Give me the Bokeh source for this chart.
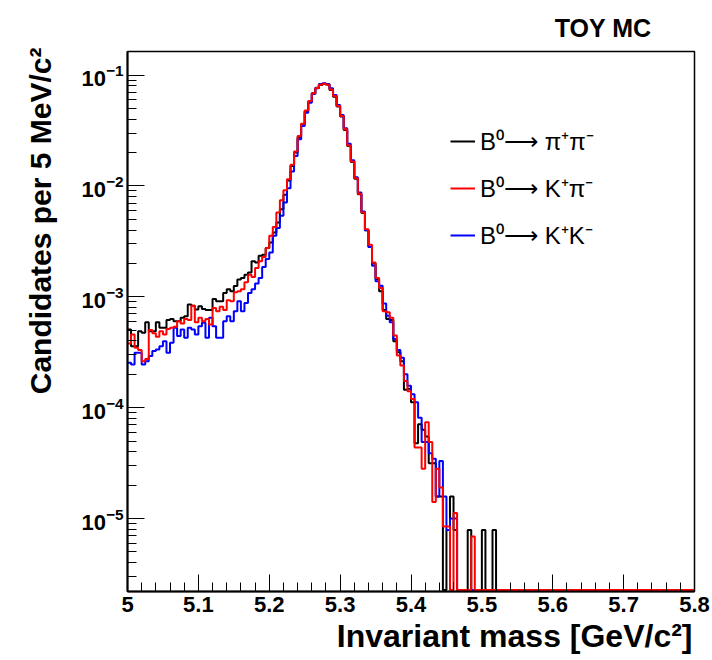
import numpy as np
from bokeh.plotting import figure
from bokeh.models import (Range1d, LogTicker, LogTickFormatter, FixedTicker,
                          CustomJSTickFormatter, Title, Legend, LegendItem, ColumnDataSource)
from bokeh.embed import file_html
from bokeh.resources import INLINE

# ---------------- data ----------------
x_lo, x_hi = 5.0, 5.8          # GeV/c^2
bin_width = 0.005              # 5 MeV bins
y_lo, y_hi = 2.2e-6, 0.163
x_major = [5.0, 5.1, 5.2, 5.3, 5.4, 5.5, 5.6, 5.7, 5.8]

# B0 -> pi+ pi-   (black)
pipi = [
    5.07e-4, 3.59e-4, 3.59e-4, 4.90e-4, 4.73e-4, 5.89e-4, 4.90e-4, 4.90e-4, 5.89e-4, 5.25e-4,
    5.25e-4, 6.17e-4, 6.31e-4, 6.03e-4, 6.03e-4, 6.46e-4, 6.68e-4, 8.51e-4, 8.32e-4, 7.67e-4,
    8.22e-4, 7.76e-4, 7.59e-4, 7.59e-4, 9.55e-4, 9.12e-4, 9.12e-4, 1.08e-3, 1.17e-3, 1.12e-3,
    1.25e-3, 1.43e-3, 1.48e-3, 1.58e-3, 1.66e-3, 2.09e-3, 2.04e-3, 2.34e-3, 2.40e-3, 2.75e-3,
    3.09e-3, 3.80e-3, 4.68e-3, 6.17e-3, 8.32e-3, 1.12e-2, 1.51e-2, 2.00e-2, 2.75e-2, 3.59e-2,
    4.73e-2, 5.75e-2, 6.84e-2, 7.59e-2, 8.13e-2, 8.32e-2, 8.22e-2, 7.33e-2, 6.38e-2, 5.19e-2,
    4.22e-2, 3.20e-2, 2.29e-2, 1.64e-2, 1.16e-2, 8.41e-3, 5.69e-3, 3.98e-3, 2.82e-3, 2.00e-3,
    1.45e-3, 1.12e-3, 7.59e-4, 6.31e-4, 6.17e-4, 3.98e-4, 3.16e-4, 2.63e-4, 1.45e-4, 1.48e-4,
    1.12e-4, 4.79e-5, 7.08e-5, 6.31e-5, 5.50e-5, 3.16e-5, 3.16e-5, 1.58e-5, 1.58e-5, 0.0,
    7.9e-6, 1.58e-5, 7.9e-6, 0.0, 0.0, 0.0, 7.9e-6, 0.0, 0.0, 0.0,
    7.9e-6, 0.0, 0.0, 7.9e-6,
] + [0.0] * 56

# B0 -> K+ pi-   (red)
kpi = [
    3.80e-4, 4.57e-4, 3.47e-4, 3.31e-4, 2.63e-4, 2.75e-4, 5.01e-4, 4.68e-4, 4.37e-4, 4.90e-4,
    4.57e-4, 5.13e-4, 5.25e-4, 5.37e-4, 6.03e-4, 5.75e-4, 6.31e-4, 6.17e-4, 8.32e-4, 5.89e-4,
    6.46e-4, 6.03e-4, 6.31e-4, 5.62e-4, 7.94e-4, 7.41e-4, 8.13e-4, 7.59e-4, 9.33e-4, 9.12e-4,
    1.10e-3, 1.12e-3, 1.17e-3, 1.35e-3, 1.58e-3, 1.51e-3, 1.82e-3, 2.09e-3, 2.29e-3, 2.75e-3,
    3.55e-3, 4.27e-3, 5.75e-3, 7.41e-3, 9.12e-3, 1.15e-2, 1.55e-2, 2.04e-2, 2.82e-2, 3.63e-2,
    4.79e-2, 5.82e-2, 6.84e-2, 7.64e-2, 8.17e-2, 8.36e-2, 8.17e-2, 7.41e-2, 6.46e-2, 5.25e-2,
    4.27e-2, 3.24e-2, 2.32e-2, 1.66e-2, 1.17e-2, 8.51e-3, 5.75e-3, 4.07e-3, 2.95e-3, 2.04e-3,
    1.48e-3, 1.20e-3, 7.41e-4, 7.24e-4, 6.46e-4, 4.47e-4, 2.95e-4, 2.40e-4, 1.74e-4, 1.41e-4,
    1.20e-4, 4.37e-5, 4.37e-5, 2.82e-5, 7.41e-5, 4.90e-5, 1.41e-5, 2.82e-5, 1.91e-5, 8.5e-6,
    8.5e-6, 0.0, 1.12e-5, 0.0, 0.0, 0.0, 0.0, 6.9e-6,
] + [0.0] * 62

# B0 -> K+ K-   (blue)
kk = [
    2.54e-4, 2.45e-4, 3.13e-4, 3.13e-4, 2.45e-4, 2.63e-4, 2.92e-4, 3.24e-4, 3.35e-4, 3.59e-4,
    3.98e-4, 3.13e-4, 3.85e-4, 5.25e-4, 4.42e-4, 5.07e-4, 4.27e-4, 5.25e-4, 5.07e-4, 4.57e-4,
    5.43e-4, 5.82e-4, 4.27e-4, 6.46e-4, 5.43e-4, 4.27e-4, 4.27e-4, 6.03e-4, 6.68e-4, 6.03e-4,
    7.41e-4, 9.12e-4, 7.41e-4, 8.81e-4, 1.08e-3, 1.17e-3, 1.32e-3, 1.48e-3, 1.86e-3, 2.19e-3,
    2.51e-3, 3.55e-3, 4.17e-3, 5.37e-3, 7.08e-3, 9.55e-3, 1.35e-2, 1.86e-2, 2.63e-2, 3.47e-2,
    4.57e-2, 5.62e-2, 6.76e-2, 7.67e-2, 8.28e-2, 8.41e-2, 8.32e-2, 7.59e-2, 6.61e-2, 5.37e-2,
    4.37e-2, 3.31e-2, 2.40e-2, 1.70e-2, 1.20e-2, 8.71e-3, 5.89e-3, 3.98e-3, 2.82e-3, 1.91e-3,
    1.38e-3, 1.26e-3, 8.71e-4, 6.76e-4, 5.89e-4, 4.17e-4, 3.31e-4, 2.82e-4, 2.00e-4, 1.58e-4,
    1.32e-4, 1.12e-4, 8.13e-5, 4.90e-5, 4.90e-5, 3.89e-5, 3.47e-5, 1.58e-5, 3.31e-5, 1.58e-5,
    7.9e-6, 1.0e-5, 1.0e-5,
] + [0.0] * 67

labels = ["B\u2070\u27f6 \u03c0\u207a\u03c0\u207b",
          "B\u2070\u27f6 K\u207a\u03c0\u207b",
          "B\u2070\u27f6 K\u207aK\u207b"]
colors = ["black", "#ff0000", "#0000ff"]
y_title = "Candidates per 5 MeV/c\u00b2"
x_title = "Invariant mass [GeV/c\u00b2]"

# ---------------- figure ----------------
FONT = "Liberation Sans"
p = figure(width=712, height=660, x_range=Range1d(x_lo, x_hi), y_range=Range1d(y_lo, y_hi),
           y_axis_type="log", output_backend="svg", toolbar_location=None,
           min_border_left=125, min_border_right=18, min_border_top=51, min_border_bottom=69)
p.grid.visible = False
p.outline_line_color = "black"
p.outline_line_width = 1.5
p.background_fill_color = "white"
p.border_fill_color = "white"

edges = x_lo + bin_width * np.arange(len(pipi) + 1)
floor = y_lo * 1.03   # empty bins are drawn along the bottom of the frame


def step_source(vals):
    y = [v if v > floor else floor for v in vals]
    y = y + [y[-1]]
    return ColumnDataSource(dict(x=edges, y=y))


r_pipi = p.step("x", "y", source=step_source(pipi), mode="after", line_color=colors[0], line_width=2)
r_kk = p.step("x", "y", source=step_source(kk), mode="after", line_color=colors[2], line_width=2)
r_kpi = p.step("x", "y", source=step_source(kpi), mode="after", line_color=colors[1], line_width=2)

# axes
minor = [round(x_lo + 0.02 * i, 2) for i in range(41)]
p.xaxis.ticker = FixedTicker(ticks=x_major, minor_ticks=minor)
p.xaxis.formatter = CustomJSTickFormatter(code="return (Math.round(tick*100)/100).toString();")
p.yaxis.ticker = LogTicker(num_minor_ticks=10)
p.yaxis.formatter = LogTickFormatter()
for ax in (p.xaxis[0], p.yaxis[0]):
    ax.major_tick_in = 17
    ax.major_tick_out = 0
    ax.minor_tick_in = 9
    ax.minor_tick_out = 0
    ax.axis_line_width = 2
    ax.major_tick_line_width = 1
    ax.minor_tick_line_width = 1
    ax.major_label_text_font = FONT
    ax.major_label_text_font_style = "bold"
    ax.major_label_text_color = "black"
    ax.major_label_text_font_size = "22px"
p.xaxis.major_label_standoff = 5
p.yaxis.major_label_standoff = 4

p.add_layout(Title(text=y_title, align="right", offset=-4,
                   text_font=FONT, text_font_style="bold",
                   text_font_size="30px", text_color="black", standoff=43), "left")
p.add_layout(Title(text=x_title, align="right", offset=2,
                   text_font=FONT, text_font_style="bold", text_font_size="32px",
                   text_color="black", standoff=2), "below")

p.title.text = "TOY MC"
p.title.align = "right"
p.title.offset = 43
p.title.text_font = FONT
p.title.text_font_style = "bold"
p.title.text_font_size = "25px"
p.title.text_color = "black"
p.title.standoff = 19

legend = Legend(items=[LegendItem(label=labels[0], renderers=[r_pipi]),
                       LegendItem(label=labels[1], renderers=[r_kpi]),
                       LegendItem(label=labels[2], renderers=[r_kk])],
                location=(323, 340), orientation="vertical",
                border_line_alpha=0, background_fill_alpha=0, padding=0, margin=0,
                spacing=14, label_height=30, glyph_height=30, glyph_width=25,
                label_standoff=5, label_text_font=FONT, label_text_font_size="24px",
                label_text_color="black")
p.add_layout(legend)

open("out.html", "w").write(file_html(p, INLINE))
